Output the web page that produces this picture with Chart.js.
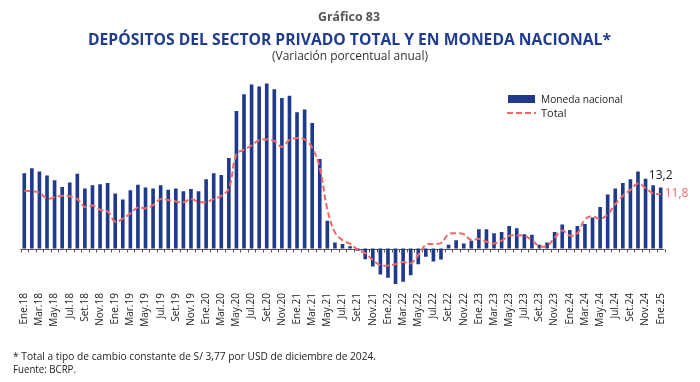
<!DOCTYPE html>
<html><head><meta charset="utf-8">
<script src="https://cdn.jsdelivr.net/npm/chart.js@4/dist/chart.umd.min.js"></script>
<style>
html,body{margin:0;padding:0;background:#fff;}
body{width:700px;height:382px;position:relative;overflow:hidden;font-family:"Open Sans",sans-serif;}
#wrap{position:absolute;left:0;top:0;width:700px;height:382px;}
.t{position:absolute;white-space:nowrap;transform-origin:left top;line-height:1;}
</style></head><body>
<div id="wrap"><canvas id="c" width="700" height="382"></canvas></div>
<div class="t" data-w="62" style="left:318px;top:10.6px;font-size:12px;font-weight:bold;color:#555;">Gráfico 83</div>
<div class="t" data-w="523" style="left:88px;top:30.5px;font-size:16px;font-weight:bold;color:#1f3c8f;">DEPÓSITOS DEL SECTOR PRIVADO TOTAL Y EN MONEDA NACIONAL*</div>
<div class="t" data-w="156" style="left:272px;top:49.5px;font-size:12px;color:#333;">(Variación porcentual anual)</div>
<div class="t" data-w="363" style="left:13px;top:351.1px;font-size:10px;color:#222;">* Total a tipo de cambio constante de S/ 3,77 por USD de diciembre de 2024.</div>
<div class="t" data-w="63" style="left:13px;top:364.4px;font-size:10px;color:#222;">Fuente: BCRP.</div>
<div style="position:absolute;left:508px;top:95px;width:27px;height:8px;background:#1f3a8a;"></div>
<svg style="position:absolute;left:506px;top:111px;" width="32" height="4"><line x1="1" y1="2" x2="30" y2="2" stroke="#f06a6a" stroke-width="2" stroke-dasharray="6,3"/></svg>
<div class="t" data-w="81.6" style="left:541px;top:93.2px;font-size:11px;color:#222;">Moneda nacional</div>
<div class="t" style="left:541px;top:107.2px;font-size:11px;color:#222;">Total</div>
<script>
const categories = [
 "Ene.18","Feb.18","Mar.18","Abr.18","May.18","Jun.18","Jul.18","Ago.18","Set.18","Oct.18","Nov.18","Dic.18",
 "Ene.19","Feb.19","Mar.19","Abr.19","May.19","Jun.19","Jul.19","Ago.19","Set.19","Oct.19","Nov.19","Dic.19",
 "Ene.20","Feb.20","Mar.20","Abr.20","May.20","Jun.20","Jul.20","Ago.20","Set.20","Oct.20","Nov.20","Dic.20",
 "Ene.21","Feb.21","Mar.21","Abr.21","May.21","Jun.21","Jul.21","Ago.21","Set.21","Oct.21","Nov.21","Dic.21",
 "Ene.22","Feb.22","Mar.22","Abr.22","May.22","Jun.22","Jul.22","Ago.22","Set.22","Oct.22","Nov.22","Dic.22",
 "Ene.23","Feb.23","Mar.23","Abr.23","May.23","Jun.23","Jul.23","Ago.23","Set.23","Oct.23","Nov.23","Dic.23",
 "Ene.24","Feb.24","Mar.24","Abr.24","May.24","Jun.24","Jul.24","Ago.24","Set.24","Oct.24","Nov.24","Dic.24",
 "Ene.25"];
const monedaNacional = [
 16.3,17.4,16.7,15.8,14.8,13.3,14.3,16.2,13.0,13.7,13.9,14.2,
 11.9,10.6,12.6,13.8,13.2,13.0,13.7,12.7,13.0,12.4,12.9,12.4,
 15.0,16.3,15.9,19.6,29.8,33.4,35.5,35.1,35.7,34.5,32.6,33.1,
 29.5,30.1,27.2,19.4,6.0,1.3,1.0,0.5,-0.5,-2.3,-3.9,-5.6,
 -6.3,-7.7,-7.2,-5.8,-3.4,-1.8,-2.8,-2.4,0.8,1.8,1.1,1.7,
 4.2,4.2,3.3,3.6,4.9,4.4,3.1,3.0,0.8,1.3,3.6,5.2,
 4.0,4.9,5.3,6.7,9.0,11.7,13.0,14.2,15.0,16.7,15.1,13.7,
 13.2];
const total = [
 12.5,12.4,12.1,10.8,11.1,11.4,11.3,10.7,9.0,9.3,8.4,8.0,
 5.8,6.5,7.6,8.9,8.7,9.4,10.7,10.5,10.2,10.0,10.7,10.1,
 10.1,10.7,11.4,13.0,20.4,21.4,22.3,23.5,23.6,23.3,22.0,23.5,
 23.9,23.6,21.8,17.5,8.5,3.5,1.8,1.0,-0.2,-1.0,-2.5,-3.6,
 -3.7,-3.4,-2.9,-3.2,-1.4,0.8,1.0,1.2,3.1,3.3,3.1,1.8,
 2.1,1.5,1.1,1.7,2.8,2.8,2.8,1.8,0.5,0.6,2.3,3.9,
 2.8,3.3,6.3,7.0,6.4,7.4,9.6,11.4,12.7,14.1,13.1,11.9,
 11.8];
const lastLabels = ["13,2","11,8"];

const BAR = '#1f3a8a', LINE = '#f06a6a';

const zeroAxis = {
  id:'zeroAxis',
  beforeDatasetsDraw(chart){
    const {ctx, chartArea, scales:{x,y}} = chart;
    const y0 = Math.round(y.getPixelForValue(0)) + 0.5;
    const sp = x.getPixelForValue(1) - x.getPixelForValue(0);
    ctx.save();
    ctx.strokeStyle = '#555'; ctx.lineWidth = 1;
    ctx.beginPath();
    ctx.moveTo(chartArea.left, y0); ctx.lineTo(chartArea.right, y0);
    for (let i = 0; i <= categories.length; i++) {
      const px = Math.round(x.getPixelForValue(0) - sp/2 + i*sp) + 0.5;
      ctx.moveTo(px, y0); ctx.lineTo(px, y0 + 3);
    }
    ctx.stroke();
    ctx.restore();
  }
};
const endLabels = {
  id:'endLabels',
  afterDatasetsDraw(chart){
    const {ctx, scales:{x,y}} = chart;
    const n = categories.length - 1;
    const px = x.getPixelForValue(n);
    ctx.save();
    ctx.font = '12px "Open Sans"';
    ctx.textBaseline = 'middle';
    ctx.fillStyle = '#222'; ctx.textAlign = 'center';
    ctx.fillText(lastLabels[0], px, y.getPixelForValue(monedaNacional[n]) - 12);
    ctx.fillStyle = LINE; ctx.textAlign = 'left';
    ctx.fillText(lastLabels[1], px + 4, y.getPixelForValue(total[n]));
    ctx.restore();
  }
};

new Chart(document.getElementById('c'), {
  data: {
    labels: categories,
    datasets: [
      {type:'line', label:'Total', data: total, borderColor: LINE, borderWidth: 2,
       borderDash:[6,3], pointRadius:0, tension:0.4, fill:false, order:0},
      {type:'bar', label:'Moneda nacional', data: monedaNacional, backgroundColor: BAR,
       categoryPercentage:1, barPercentage:0.48, order:1}
    ]
  },
  options: {
    responsive:false, animation:false, devicePixelRatio:1,
    layout:{padding:{left:20.5, right:35.5, top:73, bottom:51.9}},
    plugins:{legend:{display:false}, tooltip:{enabled:false}},
    scales:{
      x:{offset:true, grid:{display:false, drawTicks:false}, border:{display:false},
         ticks:{autoSkip:false, minRotation:90, maxRotation:90, padding:3, color:'#222',
                font:{family:'Open Sans', size:10},
                callback:(v,i)=> i%2===0 ? categories[i] : ''},
         afterFit:(s)=>{ s.height = 40; }},
      y:{display:false, min:-9, max:38}
    }
  },
  plugins:[zeroAxis, endLabels]
});

document.querySelectorAll('[data-w]').forEach(el=>{
  const w = el.getBoundingClientRect().width;
  el.style.transform = 'scaleX(' + (parseFloat(el.dataset.w)/w) + ')';
});
</script>
</body></html>
